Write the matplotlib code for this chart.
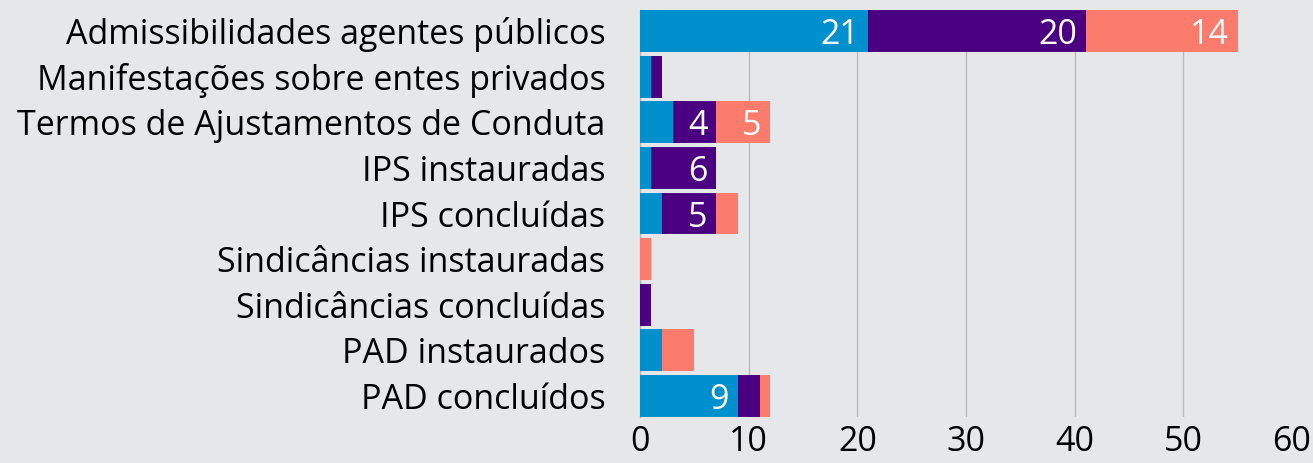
import matplotlib
matplotlib.use("Agg")
import matplotlib.pyplot as plt
import numpy as np

# categories top to bottom
categories = [
    "Admissibilidades agentes públicos",
    "Manifestações sobre entes privados",
    "Termos de Ajustamentos de Conduta",
    "IPS instauradas",
    "IPS concluídas",
    "Sindicâncias instauradas",
    "Sindicâncias concluídas",
    "PAD instaurados",
    "PAD concluídos",
]
serie_azul = [21, 1, 3, 1, 2, 0, 0, 2, 9]
serie_roxa = [20, 1, 4, 6, 5, 0, 1, 0, 2]
serie_salmao = [14, 0, 5, 0, 2, 1, 0, 3, 1]
x_ticks = [0, 10, 20, 30, 40, 50, 60]

BG = "#e6e7e9"
COLORS = ["#0090cd", "#4b0082", "#fb7b6d"]

plt.rcParams["font.family"] = ["Open Sans", "DejaVu Sans"]

fig = plt.figure(figsize=(13.13, 4.63), dpi=100, facecolor=BG)
ax = fig.add_axes([640 / 1313, 1 - 417 / 463, (1292 - 640) / 1313, 407 / 463])
ax.set_facecolor(BG)

y = np.arange(len(categories))
left = np.zeros(len(categories))
for vals, col in zip([serie_azul, serie_roxa, serie_salmao], COLORS):
    vals = np.array(vals)
    ax.barh(y, vals, left=left, height=0.92, color=col, zorder=3)
    for yi, (l, v) in enumerate(zip(left, vals)):
        if v >= 4:
            ax.text(l + v - 0.8, yi, str(v), ha="right", va="center_baseline",
                    color="white", fontsize=24.5, zorder=4)
    left = left + vals

ax.set_xlim(0, 60)
ax.set_ylim(len(categories) - 1 + 0.46, -0.46)
ax.set_xticks(x_ticks)
ax.set_yticks(y)
ax.set_yticklabels(categories)
ax.tick_params(axis="both", length=0, labelsize=24.5, colors="black")
ax.tick_params(axis="y", pad=25)
ax.tick_params(axis="x", pad=6)

ax.grid(axis="x", color="#b9babc", linewidth=1, zorder=0)
ax.xaxis.get_gridlines()[-1].set_visible(False)
for s in ["top", "right", "bottom"]:
    ax.spines[s].set_visible(False)
ax.spines["left"].set_color("#b9babc")
ax.spines["left"].set_linewidth(1)

fig.savefig("out.png", dpi=100, facecolor=BG)
